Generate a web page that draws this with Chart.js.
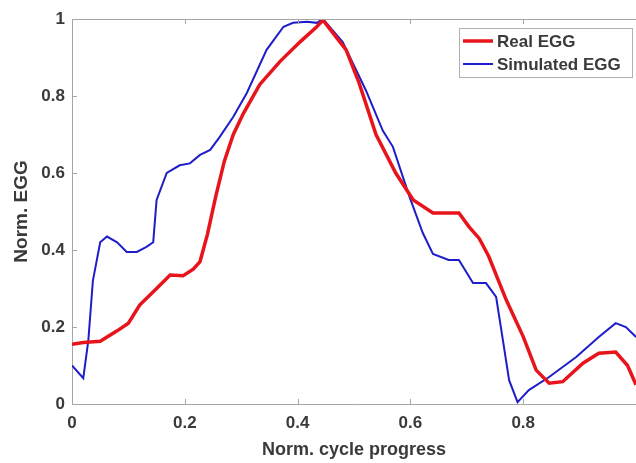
<!DOCTYPE html>
<html>
<head>
<meta charset="utf-8">
<script src="https://cdn.jsdelivr.net/npm/chart.js@4"></script>
<style>
  html, body { margin: 0; padding: 0; background: #fff; }
  #wrap { width: 636px; height: 463px; }
</style>
</head>
<body>
<div id="wrap"><canvas id="eggChart" width="636" height="463"></canvas></div>
<script>
// values
const realX = [0, 0.02, 0.05, 0.08, 0.1, 0.12, 0.15, 0.174, 0.197, 0.215, 0.227, 0.24, 0.255, 0.27, 0.286, 0.304, 0.333, 0.369, 0.404, 0.434, 0.445, 0.486, 0.509, 0.539, 0.574, 0.605, 0.64, 0.686, 0.704, 0.722, 0.739, 0.77, 0.8, 0.823, 0.846, 0.87, 0.906, 0.934, 0.964, 0.985, 1.0];
const realY = [0.155, 0.16, 0.163, 0.19, 0.21, 0.257, 0.3, 0.335, 0.333, 0.35, 0.37, 0.44, 0.54, 0.63, 0.7, 0.755, 0.83, 0.89, 0.94, 0.98, 0.997, 0.92, 0.834, 0.7, 0.6, 0.53, 0.496, 0.496, 0.46, 0.43, 0.383, 0.27, 0.175, 0.088, 0.054, 0.058, 0.106, 0.132, 0.135, 0.1, 0.05];

const simX = [0, 0.02, 0.029, 0.037, 0.05, 0.062, 0.08, 0.097, 0.115, 0.132, 0.144, 0.15, 0.168, 0.191, 0.209, 0.227, 0.245, 0.262, 0.286, 0.31, 0.345, 0.375, 0.392, 0.417, 0.434, 0.445, 0.48, 0.521, 0.551, 0.569, 0.598, 0.622, 0.64, 0.668, 0.686, 0.711, 0.734, 0.752, 0.764, 0.775, 0.79, 0.81, 0.846, 0.894, 0.934, 0.964, 0.982, 1.0];
const simY = [0.1, 0.067, 0.166, 0.32, 0.42, 0.435, 0.42, 0.395, 0.395, 0.408, 0.42, 0.53, 0.6, 0.62, 0.625, 0.647, 0.66, 0.694, 0.746, 0.808, 0.92, 0.98, 0.99, 0.993, 0.99, 1.0, 0.94, 0.815, 0.71, 0.668, 0.54, 0.444, 0.39, 0.374, 0.374, 0.314, 0.314, 0.278, 0.166, 0.062, 0.005, 0.036, 0.07, 0.122, 0.174, 0.21, 0.2, 0.174];

const seriesNames = ['Real EGG', 'Simulated EGG'];
const xTicks = [0, 0.2, 0.4, 0.6, 0.8];
const yTicks = [0, 0.2, 0.4, 0.6, 0.8, 1];

const FONT = "'Liberation Sans', Arial, sans-serif";
const AXIS = '#a6a6a6';
const TEXT = '#3a3a3a';

function toPoints(xs, ys) {
    return xs.map((x, i) => ({ x: x, y: ys[i] }));
}

// matlab style frame: top border, inner tick marks, legend box
const framePlugin = {
    id: 'frame',
    afterDraw(chart) {
        const { ctx, chartArea: a, scales } = chart;
        ctx.save();
        ctx.strokeStyle = AXIS;
        ctx.lineWidth = 1;
        ctx.beginPath();
        ctx.moveTo(a.left, a.top + 0.5);
        ctx.lineTo(a.right, a.top + 0.5);
        ctx.stroke();

        // inner ticks
        ctx.beginPath();
        xTicks.forEach(v => {
            const px = Math.round(scales.x.getPixelForValue(v)) + 0.5;
            ctx.moveTo(px, a.bottom); ctx.lineTo(px, a.bottom - 5);
            ctx.moveTo(px, a.top); ctx.lineTo(px, a.top + 5);
        });
        yTicks.forEach(v => {
            const py = Math.round(scales.y.getPixelForValue(v)) + 0.5;
            ctx.moveTo(a.left, py); ctx.lineTo(a.left + 5, py);
        });
        ctx.stroke();

        // legend
        const bx = a.right - 177, by = a.top + 9, bw = 173, bh = 49;
        ctx.fillStyle = '#fff';
        ctx.fillRect(bx, by, bw, bh);
        ctx.strokeStyle = '#b0b0b0';
        ctx.strokeRect(bx + 0.5, by + 0.5, bw, bh);
        ctx.font = 'bold 17px ' + FONT;
        ctx.textBaseline = 'middle';
        chart.data.datasets.forEach((ds, i) => {
            const ly = by + 13 + i * 23;
            ctx.strokeStyle = ds.borderColor;
            ctx.lineWidth = ds.borderWidth;
            ctx.beginPath();
            ctx.moveTo(bx + 4, ly); ctx.lineTo(bx + 34, ly);
            ctx.stroke();
            ctx.fillStyle = TEXT;
            ctx.fillText(ds.label, bx + 38, ly + 1);
        });
        ctx.restore();
    }
};

const ctx = document.getElementById('eggChart').getContext('2d');
new Chart(ctx, {
    type: 'line',
    data: {
        datasets: [
            {
                label: seriesNames[0],
                data: toPoints(realX, realY),
                borderColor: '#e8141b',
                borderWidth: 3.5,
                pointRadius: 0,
                tension: 0
            },
            {
                label: seriesNames[1],
                data: toPoints(simX, simY),
                borderColor: '#1e1ec8',
                borderWidth: 2,
                pointRadius: 0,
                tension: 0
            }
        ]
    },
    options: {
        responsive: false,
        animation: false,
        layout: { padding: { top: 19, right: 0, left: 0, bottom: 0 } },
        plugins: {
            legend: { display: false },
            tooltip: { enabled: false }
        },
        scales: {
            x: {
                type: 'linear',
                min: 0,
                max: 1,
                afterBuildTicks: s => { s.ticks = xTicks.map(v => ({ value: v })); },
                afterFit: s => { s.height = 59; },
                grid: { display: false, drawTicks: false },
                border: { color: AXIS },
                ticks: {
                    color: TEXT,
                    padding: 9,
                    font: { family: FONT, size: 17, weight: 'bold' },
                    callback: v => String(v)
                },
                title: {
                    display: true,
                    text: 'Norm. cycle progress',
                    color: TEXT,
                    padding: { top: 0, bottom: 2 },
                    font: { family: FONT, size: 18, weight: 'bold' }
                }
            },
            y: {
                min: 0,
                max: 1,
                afterBuildTicks: s => { s.ticks = yTicks.map(v => ({ value: v })); },
                afterFit: s => { s.width = 72; },
                grid: { display: false, drawTicks: false },
                border: { color: AXIS },
                ticks: {
                    color: TEXT,
                    padding: 7,
                    font: { family: FONT, size: 17, weight: 'bold' },
                    callback: v => String(v)
                },
                title: {
                    display: true,
                    text: 'Norm. EGG',
                    color: TEXT,
                    padding: { top: 10, bottom: 0 },
                    font: { family: FONT, size: 19, weight: 'bold' }
                }
            }
        }
    },
    plugins: [framePlugin]
});
</script>
</body>
</html>
